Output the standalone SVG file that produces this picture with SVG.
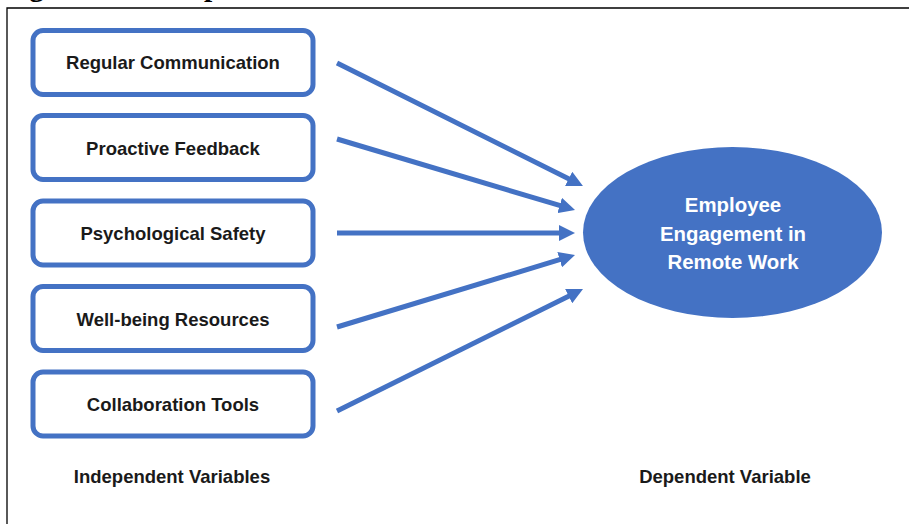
<svg xmlns="http://www.w3.org/2000/svg" width="911" height="524" viewBox="0 0 911 524">
  <style>
    .box { fill: #ffffff; stroke: #4472C4; stroke-width: 5; }
    .label { font-family: "Liberation Sans", Arial, sans-serif; font-weight: bold; font-size: 18.5px; fill: #1a1a1a; text-anchor: middle; }
    .center-label { font-family: "Liberation Sans", Arial, sans-serif; font-weight: bold; font-size: 20.4px; fill: #ffffff; text-anchor: middle; }
    .link { stroke: #4472C4; stroke-width: 5; fill: none; marker-end: url(#head); }
    .frame { stroke: #000000; stroke-width: 1.3; fill: none; }
    .caption { font-family: "Liberation Serif", "Times New Roman", serif; font-weight: bold; font-size: 29.5px; fill: #000000; }
  </style>
  <defs>
    <marker id="head" viewBox="0 0 10 10" refX="1" refY="5" markerWidth="3.2" markerHeight="3.2" orient="auto" markerUnits="strokeWidth">
      <path d="M0,0 L10,5 L0,10 z" fill="#4472C4"/>
    </marker>
  </defs>

  <rect width="911" height="524" fill="#ffffff"/>

  <!-- caption running off the top edge: only its descenders remain on the page -->
  <text class="caption" x="3" y="-4.5">Figure 1: Conceptual Framework</text>

  <!-- page frame -->
  <path class="frame" d="M909,8 H7 V524"/>

  <g id="regular-communication">
    <rect class="box" x="33" y="30.5" width="280" height="64" rx="10"/>
    <text class="label" x="173" y="69">Regular Communication</text>
  </g>
  <g id="proactive-feedback">
    <rect class="box" x="33" y="115.5" width="280" height="64" rx="10"/>
    <text class="label" x="173" y="154.5">Proactive Feedback</text>
  </g>
  <g id="psychological-safety">
    <rect class="box" x="33" y="201" width="280" height="64" rx="10"/>
    <text class="label" x="173" y="240">Psychological Safety</text>
  </g>
  <g id="well-being-resources">
    <rect class="box" x="33" y="286.5" width="280" height="64" rx="10"/>
    <text class="label" x="173" y="325.5">Well-being Resources</text>
  </g>
  <g id="collaboration-tools">
    <rect class="box" x="33" y="372" width="280" height="64" rx="10"/>
    <text class="label" x="173" y="411">Collaboration Tools</text>
  </g>

  <g id="employee-engagement">
    <ellipse cx="732.5" cy="232.5" rx="149.5" ry="85.5" fill="#4472C4"/>
    <text class="center-label" x="733" y="212">Employee</text>
    <text class="center-label" x="733" y="240.5">Engagement in</text>
    <text class="center-label" x="733" y="269">Remote Work</text>
  </g>

  <g id="connectors">
    <line class="link" x1="337" y1="63" x2="570.1" y2="179.6"/>
    <line class="link" x1="337" y1="139" x2="561.2" y2="205.9"/>
    <line class="link" x1="337" y1="233" x2="560.6" y2="233"/>
    <line class="link" x1="337" y1="327" x2="561.2" y2="259.2"/>
    <line class="link" x1="337" y1="411" x2="570.1" y2="295.4"/>
  </g>

  <g id="axis-labels">
    <text class="label" x="172" y="483">Independent Variables</text>
    <text class="label" x="725" y="483">Dependent Variable</text>
  </g>
</svg>
